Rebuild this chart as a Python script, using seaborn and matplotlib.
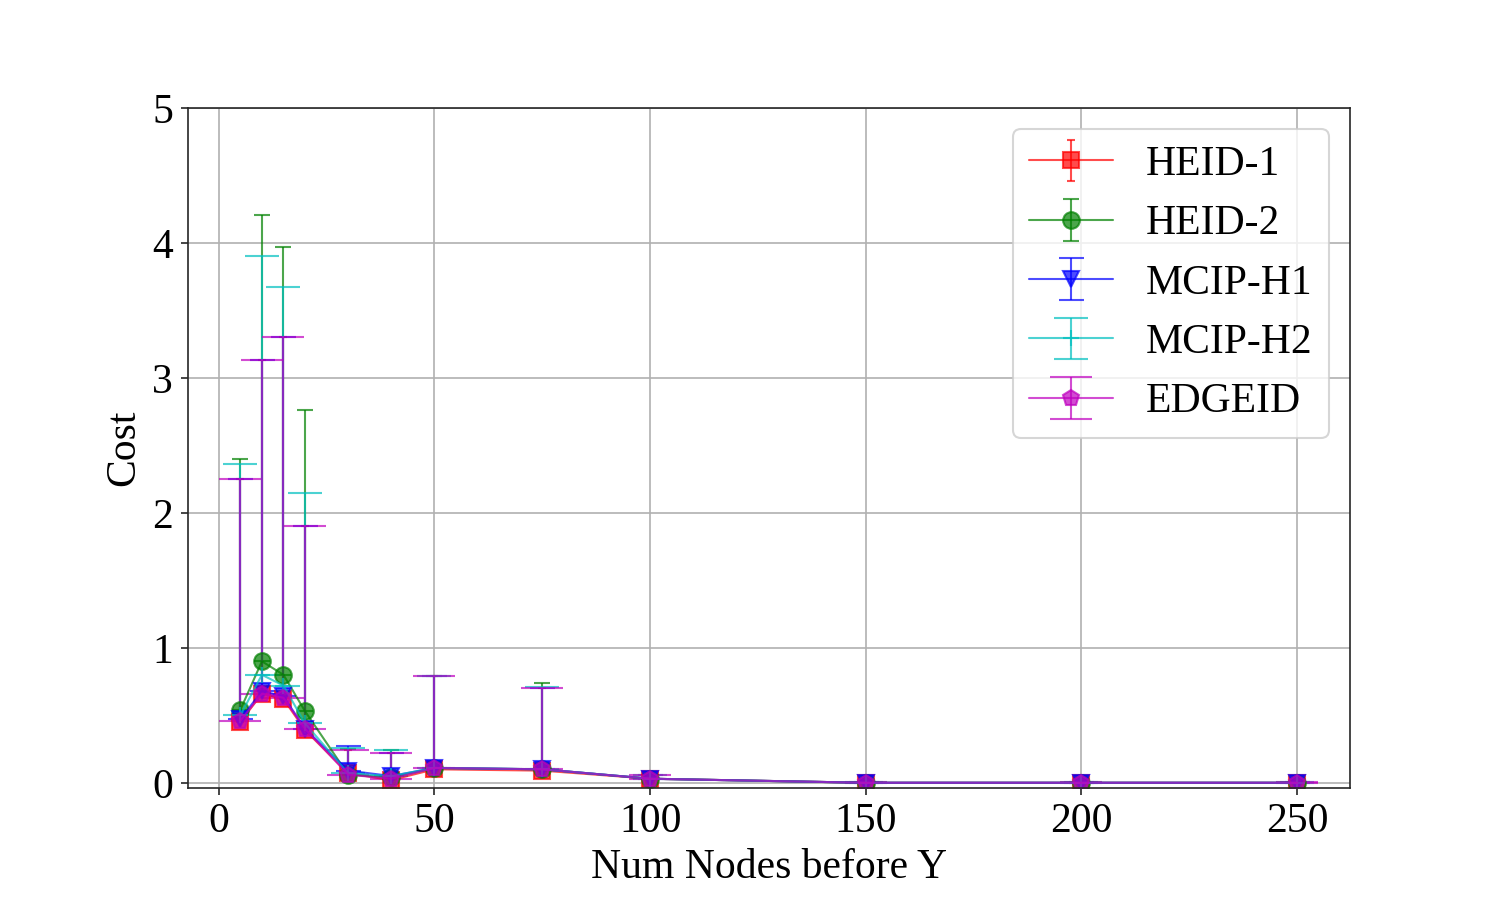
import numpy as np
import matplotlib
matplotlib.use("Agg")
import matplotlib.pyplot as plt
import seaborn as sns

# ---- data ----
num_nodes = [5, 10, 15, 20, 30, 40, 50, 75, 100, 150, 200, 250]
series_names = ["HEID-1", "HEID-2", "MCIP-H1", "MCIP-H2", "EDGEID"]

heid1_mean = [0.45, 0.66, 0.62, 0.39, 0.07, 0.02, 0.10, 0.09, 0.03, 0.0, 0.0, 0.0]
heid1_err = [1.80, 2.47, 2.68, 1.51, 0.17, 0.20, 0.69, 0.61, 0.03, 0.005, 0.005, 0.005]

heid2_mean = [0.54, 0.90, 0.80, 0.53, 0.06, 0.04, 0.11, 0.10, 0.03, 0.0, 0.0, 0.0]
heid2_err = [1.86, 3.31, 3.17, 2.23, 0.19, 0.20, 0.68, 0.64, 0.03, 0.005, 0.005, 0.005]

mcip1_mean = [0.47, 0.68, 0.64, 0.40, 0.09, 0.05, 0.11, 0.10, 0.03, 0.0, 0.0, 0.0]
mcip1_err = [1.78, 2.45, 2.66, 1.50, 0.18, 0.17, 0.68, 0.60, 0.03, 0.005, 0.005, 0.005]

mcip2_mean = [0.50, 0.80, 0.72, 0.44, 0.07, 0.05, 0.11, 0.10, 0.03, 0.0, 0.0, 0.0]
mcip2_err = [1.86, 3.10, 2.95, 1.71, 0.19, 0.19, 0.68, 0.61, 0.03, 0.005, 0.005, 0.005]

edge_mean = [0.46, 0.66, 0.63, 0.40, 0.06, 0.03, 0.11, 0.10, 0.03, 0.0, 0.0, 0.0]
edge_err = [1.79, 2.47, 2.67, 1.50, 0.18, 0.19, 0.68, 0.60, 0.03, 0.005, 0.005, 0.005]

means = [heid1_mean, heid2_mean, mcip1_mean, mcip2_mean, edge_mean]
errs = [heid1_err, heid2_err, mcip1_err, mcip2_err, edge_err]
colors = ["r", "g", "b", "c", "m"]
markers = ["s", "o", "v", "+", "p"]
capsizes = [2, 4, 6, 8, 10]

# ---- style ----
sns.set_style("white", rc={"axes.grid": True, "grid.color": "#b0b0b0",
                           "axes.edgecolor": ".15", "xtick.bottom": True,
                           "ytick.left": True})
plt.rcParams["font.family"] = ["Liberation Serif", "DejaVu Serif"]
plt.rcParams["font.size"] = 20
plt.rcParams["grid.linewidth"] = 0.8
plt.rcParams["text.color"] = "black"
plt.rcParams["axes.labelcolor"] = "black"
plt.rcParams["xtick.labelcolor"] = "black"
plt.rcParams["ytick.labelcolor"] = "black"

fig, ax = plt.subplots(figsize=(10, 6), dpi=150)
fig.subplots_adjust(left=0.125, right=0.9, top=0.88, bottom=0.125)

for name, m, e, c, mk, cs in zip(series_names, means, errs, colors, markers, capsizes):
    m = np.array(m)
    e = np.array(e)
    ax.errorbar(num_nodes, m, yerr=[np.zeros_like(e), e], color=c, marker=mk,
                markersize=8, linewidth=1, elinewidth=1, capsize=cs,
                alpha=0.7, label=name)

ax.set_ylim(-0.035, 5)
ax.set_xlabel("Num Nodes before Y", fontsize=20, color="black")
ax.set_ylabel("Cost", fontsize=20, color="black")
ax.tick_params(labelsize=20, labelcolor="black")
ax.grid(True)
ax.set_axisbelow(True)
leg = ax.legend(loc="upper right", fontsize=20)
for t in leg.get_texts():
    t.set_color("black")

fig.savefig("out.png", dpi=150)
